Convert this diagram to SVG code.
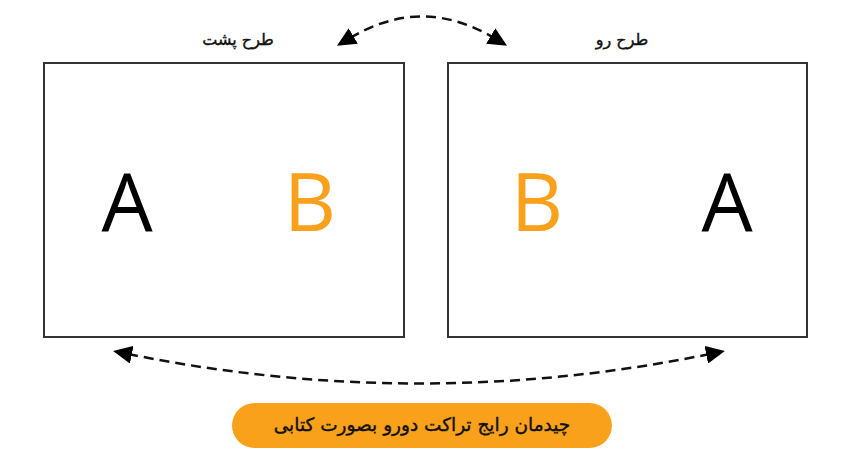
<svg xmlns="http://www.w3.org/2000/svg" width="850" height="462" viewBox="0 0 850 462">
<style>
.box{fill:#fff;stroke:#333;stroke-width:2}
.big{font-family:"Open Sans","Noto Sans",sans-serif;font-size:81px;text-anchor:middle}
.a{fill:#000}
.b{fill:#F9A11B}
.lbl{font-family:"DejaVu Sans","Noto Sans",sans-serif;font-size:16px;font-weight:normal;text-anchor:middle;fill:#111;stroke:#111;stroke-width:0.4}
.cap{font-size:18.5px}
.arc{fill:none;stroke:#111;stroke-width:2.5;stroke-dasharray:10 6}
</style>
<defs>
<marker id="ah" viewBox="0 0 10 10" refX="2" refY="5" markerWidth="19" markerHeight="18" markerUnits="userSpaceOnUse" orient="auto-start-reverse" preserveAspectRatio="none">
<path d="M0,0 L10,5 L0,10 z" fill="#000"/>
</marker>
</defs>
<rect width="850" height="462" fill="#fff"/>
<g id="back">
<rect class="box" x="44" y="63" width="360" height="274"/>
<text class="big a" x="127" y="231">A</text>
<text class="big b" x="310" y="231">B</text>
<text class="lbl" x="238" y="45" direction="rtl">طرح پشت</text>
</g>
<g id="front">
<rect class="box" x="448" y="63" width="359" height="274"/>
<text class="big b" x="537" y="231">B</text>
<text class="big a" x="727" y="231">A</text>
<text class="lbl" x="622" y="45" direction="rtl">طرح رو</text>
</g>
<g id="connectors">
<path class="arc" d="M350,38 Q422,-5 494,38" marker-start="url(#ah)" marker-end="url(#ah)"/>
<path class="arc" d="M128,354 Q420,413 710,354" marker-start="url(#ah)" marker-end="url(#ah)"/>
</g>
<g id="caption">
<rect x="232" y="403" width="380" height="45" rx="22.5" fill="#F9A11B"/>
<text class="lbl cap" x="422" y="431" direction="rtl">چیدمان رایج تراکت دورو بصورت کتابی</text>
</g>
</svg>
